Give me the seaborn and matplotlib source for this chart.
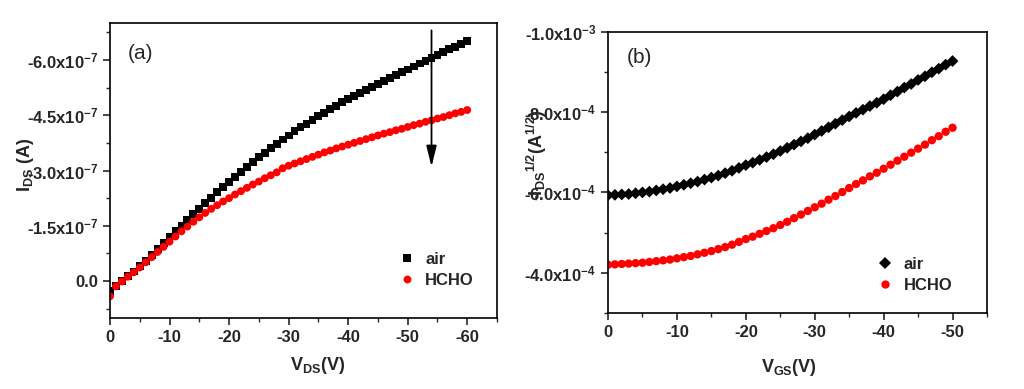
import numpy as np
import pandas as pd
import matplotlib
matplotlib.use("Agg")
import matplotlib.pyplot as plt
from matplotlib.ticker import MultipleLocator
import seaborn as sns

# panel (a): output curves, I_DS in units of 1e-7 A (negative current)
vds = np.arange(0, -61, -1)
ids_air = -1e-7 * np.array([
    -0.27, -0.13, 0.00, 0.13, 0.26, 0.40, 0.55, 0.70, 0.86, 1.03,
    1.20, 1.36, 1.51, 1.66, 1.81, 1.96, 2.11, 2.26, 2.41, 2.55,
    2.69, 2.83, 2.97, 3.10, 3.23, 3.36, 3.48, 3.60, 3.72, 3.84,
    3.95, 4.06, 4.17, 4.27, 4.38, 4.48, 4.57, 4.67, 4.76, 4.85,
    4.94, 5.02, 5.10, 5.18, 5.26, 5.34, 5.42, 5.50, 5.58, 5.66,
    5.74, 5.82, 5.90, 5.98, 6.05, 6.13, 6.21, 6.29, 6.36, 6.44, 6.52])
ids_hcho = -1e-7 * np.array([
    -0.41, -0.14, -0.01, 0.12, 0.24, 0.37, 0.51, 0.65, 0.79, 0.93,
    1.07, 1.21, 1.35, 1.48, 1.61, 1.73, 1.85, 1.96, 2.06, 2.16,
    2.25, 2.35, 2.44, 2.53, 2.62, 2.70, 2.79, 2.87, 2.95, 3.06,
    3.13, 3.19, 3.25, 3.31, 3.37, 3.43, 3.49, 3.54, 3.60, 3.65,
    3.70, 3.75, 3.80, 3.85, 3.90, 3.95, 4.00, 4.04, 4.09, 4.13,
    4.18, 4.23, 4.27, 4.32, 4.36, 4.41, 4.45, 4.50, 4.55, 4.59, 4.64])

# panel (b): transfer curves, sqrt(I_DS) in units of 1e-4
vgs = np.arange(0, -51, -1)
sq_air = -1e-4 * np.array([
    5.93, 5.94, 5.95, 5.96, 5.98, 6.00, 6.02, 6.05, 6.08, 6.11,
    6.15, 6.19, 6.23, 6.27, 6.32, 6.37, 6.42, 6.48, 6.54, 6.61,
    6.68, 6.74, 6.81, 6.88, 6.95, 7.03, 7.11, 7.19, 7.27, 7.35,
    7.44, 7.53, 7.62, 7.71, 7.80, 7.89, 7.98, 8.06, 8.15, 8.23,
    8.32, 8.42, 8.51, 8.61, 8.70, 8.80, 8.89, 8.99, 9.08, 9.18, 9.27])
sq_hcho = -1e-4 * np.array([
    4.20, 4.21, 4.22, 4.23, 4.24, 4.25, 4.27, 4.29, 4.31, 4.33,
    4.36, 4.39, 4.42, 4.46, 4.50, 4.54, 4.59, 4.64, 4.70, 4.77,
    4.84, 4.90, 4.97, 5.04, 5.11, 5.19, 5.27, 5.36, 5.45, 5.54,
    5.63, 5.72, 5.82, 5.91, 6.01, 6.11, 6.21, 6.30, 6.40, 6.49,
    6.59, 6.69, 6.79, 6.89, 6.99, 7.09, 7.19, 7.30, 7.40, 7.51, 7.61])

a_xticks = [0, -10, -20, -30, -40, -50, -60]
a_yticks = [0, -1.5e-7, -3.0e-7, -4.5e-7, -6.0e-7]
a_ylabels = ["0.0", "-1.5x10$^{-7}$", "-3.0x10$^{-7}$", "-4.5x10$^{-7}$", "-6.0x10$^{-7}$"]
b_xticks = [0, -10, -20, -30, -40, -50]
b_yticks = [-4.0e-4, -6.0e-4, -8.0e-4, -1.0e-3]
b_ylabels = ["-4.0x10$^{-4}$", "-6.0x10$^{-4}$", "-8.0x10$^{-4}$", "-1.0x10$^{-3}$"]

sns.set_style("ticks")
plt.rcParams["font.family"] = ["Liberation Sans", "DejaVu Sans"]
plt.rcParams["mathtext.fontset"] = "custom"
plt.rcParams["mathtext.rm"] = "Liberation Sans:bold"
plt.rcParams["mathtext.it"] = "Liberation Sans:bold"
plt.rcParams["mathtext.bf"] = "Liberation Sans:bold"
plt.rcParams["axes.linewidth"] = 1.2

fig = plt.figure(figsize=(10.24, 3.89), dpi=100)
ax1 = fig.add_axes([110 / 1024, 1 - 318 / 389, 387 / 1024, 295 / 389])
ax2 = fig.add_axes([608 / 1024, 1 - 313 / 389, 379 / 1024, 281.3 / 389])

df_a = pd.DataFrame({"V": np.concatenate([vds, vds]),
                     "I": np.concatenate([ids_air, ids_hcho]),
                     "gas": ["air"] * len(vds) + ["HCHO"] * len(vds)})
df_b = pd.DataFrame({"V": np.concatenate([vgs, vgs]),
                     "I": np.concatenate([sq_air, sq_hcho]),
                     "gas": ["air"] * len(vgs) + ["HCHO"] * len(vgs)})

pal = {"air": "black", "HCHO": "#ff0000"}
sns.scatterplot(data=df_a, x="V", y="I", hue="gas", style="gas", palette=pal,
                markers={"air": "s", "HCHO": "o"}, s=32, linewidth=0, ax=ax1)
sns.scatterplot(data=df_b, x="V", y="I", hue="gas", style="gas", palette=pal,
                markers={"air": "D", "HCHO": "o"}, s=36, linewidth=0, ax=ax2)

# axes setup
ax1.set_xlim(0, -65)
ax1.set_ylim(1.0e-7, -7.0e-7)
ax1.set_xticks(a_xticks, [str(t) for t in a_xticks])
ax1.set_yticks(a_yticks, a_ylabels)
ax1.xaxis.set_minor_locator(MultipleLocator(5))
ax1.yaxis.set_minor_locator(MultipleLocator(0.75e-7))

ax2.set_xlim(0, -55)
ax2.set_ylim(-3.0e-4, -1.0e-3)
ax2.set_xticks(b_xticks, [str(t) for t in b_xticks])
ax2.set_yticks(b_yticks, b_ylabels)
ax2.xaxis.set_minor_locator(MultipleLocator(5))
ax2.yaxis.set_minor_locator(MultipleLocator(1e-4))

for ax in (ax1, ax2):
    for sp in ax.spines.values():
        sp.set_visible(True)
        sp.set_color("black")
    ax.tick_params(which="major", direction="out", length=5, width=1.2,
                   labelsize=12)
    ax.tick_params(which="minor", direction="out", length=3, width=1.0)
    for lab in ax.get_xticklabels() + ax.get_yticklabels():
        lab.set_fontweight("bold")

ax1.set_xlabel("V$_{DS}$(V)", fontsize=13, fontweight="bold")
ax1.set_ylabel("I$_{DS}$ (A)", fontsize=13, fontweight="bold")
ax1.xaxis.set_label_coords(0.537, -0.125)
ax1.yaxis.set_label_coords(-0.19, 0.52)

ax2.set_xlabel("V$_{GS}$(V)", fontsize=13, fontweight="bold")
ax2.set_ylabel("-I$_{DS}{}^{1/2}$(A$^{1/2}$)", fontsize=13, fontweight="bold")
ax2.xaxis.set_label_coords(0.478, -0.155)
ax2.yaxis.set_label_coords(-0.155, 0.56)

ax1.text(0.047, 0.895, "(a)", transform=ax1.transAxes, fontsize=15, va="center")
ax2.text(0.05, 0.907, "(b)", transform=ax2.transAxes, fontsize=15, va="center")

ax1.annotate("", xy=(-54, -3.1e-7), xytext=(-54, -6.8e-7),
             arrowprops=dict(arrowstyle="-|>,head_length=0.9,head_width=0.22",
                             color="black", lw=1.3, mutation_scale=14,
                             shrinkA=0, shrinkB=0))

leg_kw = dict(frameon=False, loc="center left", handlelength=1.0,
              handletextpad=0.6, borderpad=0, borderaxespad=0,
              labelspacing=0.35, prop={"weight": "bold", "size": 12})
ax1.legend(bbox_to_anchor=(0.746, 0.163), title=None, **leg_kw)
ax2.legend(bbox_to_anchor=(0.71, 0.135), title=None, **leg_kw)

fig.savefig("out.png", dpi=100)
